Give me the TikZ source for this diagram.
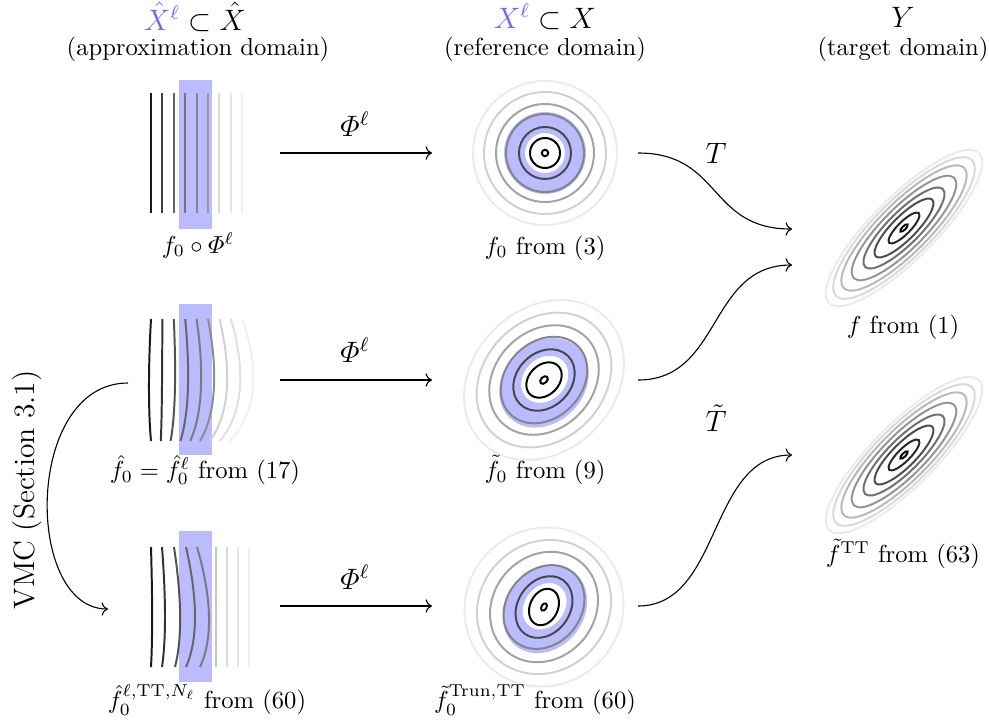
\documentclass[tikz,border=0pt]{standalone}
\usepackage{amsmath}
\usetikzlibrary{arrows.meta}
\definecolor{bandblue}{RGB}{187,187,255}
\definecolor{titleblue}{RGB}{102,102,255}
\tikzset{
  band/.style={fill=bandblue,draw=none},
  contour/.style={line width=0.8pt},
  maparrow/.style={->,line width=0.45pt},
  maplabel/.style={font=\large,inner sep=1pt},
  title/.style={font=\large,inner sep=0pt},
  subtitle/.style={inner sep=0pt},
  caption/.style={inner sep=1pt}
}
\begin{document}
\begin{tikzpicture}[x=0.4065pt,y=-0.4065pt]
\useasboundingbox (0,0) rectangle (989,727);

% ---------- titles ----------
\node[title] (t1) at (195,17) {$\textcolor{titleblue}{\hat X^\ell}\subset\hat X$};
\node[subtitle] (s1) at (198,49) {(approximation domain)};
\node[title] (t2) at (545,17) {$\textcolor{titleblue}{X^\ell}\subset X$};
\node[subtitle] (s2) at (545,49) {(reference domain)};
\node[title] (t3) at (903,17) {$Y$};
\node[subtitle] (s3) at (903,49) {(target domain)};

% ---------- column 1, row 1 ----------
\fill[band] (179,80) rectangle (212,229);
\foreach \x/\c in {151/black!90,162/black!75,174/black!62,185/black!55,197/black!47,208/black!40,219/black!15,231/black!10,242/black!6}
  \draw[contour,\c] (\x,93) -- (\x,213);
\node[caption] (c11) at (198,245) {$f_0\circ\varPhi^\ell$};

% ---------- column 1, row 2 ----------
\fill[band] (179,304) rectangle (212,455);
\foreach \i/\c in {0/black!90,1/black!80,2/black!68,3/black!60,4/black!52,5/black!45,6/black!18,7/black!12,8/black!6}{
  \pgfmathsetmacro\xx{151+11.4*\i}
  \pgfmathsetmacro\cc{-2.7+2.4*\i}
  \pgfmathsetmacro\bb{-1.6*\i}
  \draw[contour,\c] (\xx,319) .. controls (\xx+\cc,366) and (\xx+\cc,412) .. (\xx+\bb,441);
}
\node[caption] (c21) at (205,470) {$\hat f_0=\hat f_0^\ell$ from (17)};

% ---------- column 1, row 3 ----------
\fill[band] (179,531) rectangle (212,682);
\foreach \x/\cc/\bb/\c in {151/1.5/0/black!90,162/4/0/black!80,174/8/1/black!68,186/12/0/black!60,197/15.5/3/black!52}
  \draw[contour,\c] (\x,547) .. controls (\x+\cc,600) and (\x+\cc,640) .. (\x+\bb,667);
\foreach \x/\c in {216/black!22,227/black!15,238/black!10,249/black!6}
  \draw[contour,\c] (\x,547) -- (\x,667);
\node[caption] (c31) at (207,700) {$\hat f_0^{\ell,\mathrm{TT},N_\ell}$ from (60)};

% ---------- column 2, row 1 ----------
\fill[band,even odd rule] (545,153) circle[radius=41] (545,153) circle[radius=20];
\foreach \r/\c in {15/black,26/black!72,39/black!48,49/black!36,61/black!18,72/black!8}
  \draw[contour,\c] (545,153) circle[radius=\r];
\draw[contour] (545,153) circle[radius=3.2];
\node[caption] (c12) at (545,248) {$f_0$ from (3)};

% ---------- column 2, row 2 ----------
\begin{scope}[shift={(544,380)},rotate=45]
  \fill[band,even odd rule] (-2,2) ellipse[x radius=49,y radius=40] (1,0) ellipse[x radius=26,y radius=21];
  \foreach \a/\b/\c in {4.5/3/black,20/15/black,34/27/black!72,48/38/black!48,60/49/black!36,74/60/black!18,88/71/black!8}
    \draw[contour,\c] (0,0) ellipse[x radius=\a,y radius=\b];
\end{scope}
\node[caption] (c22) at (545,470) {$\tilde f_0$ from (9)};

% ---------- column 2, row 3 ----------
\begin{scope}[shift={(544,607)},rotate=52]
  \fill[band,even odd rule] (-1,2) ellipse[x radius=47,y radius=39] (1,0) ellipse[x radius=25,y radius=20];
\end{scope}
\foreach \a/\b/\ang/\c in {4/2.5/60/black,19/14/65/black,33/26/55/black!72,45/37/50/black!48,58/51/50/black!36,70/64/45/black!18,81/78/45/black!8}
  \draw[contour,\c] (544,607) ellipse[x radius=\a,y radius=\b,rotate=\ang];
\node[caption] (c32) at (535,700) {$\tilde f_0^{\mathrm{Trun},\mathrm{TT}}$ from (60)};

% ---------- column 3 ----------
\foreach \cy in {228,455}{
  \foreach \a/\b/\c in {5/1.8/black,21/6.3/black!85,40/11.8/black!70,55/16.2/black!56,71/20.8/black!42,85/25/black!28,96/28.5/black!15,106/31.5/black!8}
    \draw[contour,\c] (904,\cy) ellipse[x radius=\a,y radius=\b,rotate=45];
}
\node[caption] (c13) at (903,327) {$f$ from (1)};
\node[caption] (c23) at (903,554) {$\tilde f^{\mathrm{TT}}$ from (63)};

% ---------- connectors ----------
\coordinate (p1s) at (280,153); \coordinate (p1e) at (432,153);
\coordinate (p2s) at (280,380); \coordinate (p2e) at (432,380);
\coordinate (p3s) at (280,606); \coordinate (p3e) at (432,606);
\draw[maparrow] (p1s) -- (p1e);
\draw[maparrow] (p2s) -- (p2e);
\draw[maparrow] (p3s) -- (p3e);
\node[maplabel] (l1) at (355,124) {$\varPhi^\ell$};
\node[maplabel] (l2) at (355,350) {$\varPhi^\ell$};
\node[maplabel] (l3) at (355,577) {$\varPhi^\ell$};

\coordinate (q1s) at (638,153); \coordinate (q1e) at (792,229);
\coordinate (q2s) at (638,380); \coordinate (q2e) at (792,265);
\coordinate (q3s) at (638,606); \coordinate (q3e) at (792,455);
\draw[maparrow] (q1s) .. controls (722,153) and (708,229) .. (q1e);
\draw[maparrow] (q2s) .. controls (722,380) and (708,265) .. (q2e);
\draw[maparrow] (q3s) .. controls (722,606) and (708,455) .. (q3e);
\node[maplabel] (lT) at (716,153) {$T$};
\node[maplabel] (lTt) at (716,418) {$\tilde T$};

\coordinate (v1) at (128,383); \coordinate (v2) at (108,609);
\draw[maparrow] (v1) .. controls (24,383) and (24,609) .. (v2);
\node[font=\large,rotate=90,inner sep=1pt] (vmc) at (27,490) {VMC (Section 3.1)};
\end{tikzpicture}
\end{document}
